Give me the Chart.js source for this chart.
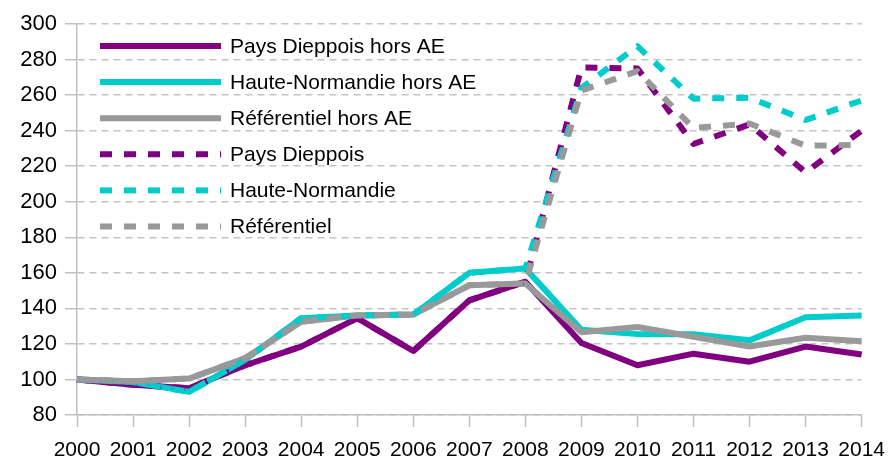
<!DOCTYPE html>
<html>
<head>
<meta charset="utf-8">
<script src="https://cdn.jsdelivr.net/npm/chart.js@4/dist/chart.umd.min.js"></script>
<style>
  html, body { margin: 0; padding: 0; background: #fff; }
  #wrap { width: 896px; height: 457px; }
</style>
</head>
<body>
<div id="wrap"><canvas id="chart"></canvas></div>
<script>
const years = ['2000', '2001', '2002', '2003', '2004', '2005', '2006', '2007',
  '2008', '2009', '2010', '2011', '2012', '2013', '2014'];

const yTicks = [80, 100, 120, 140, 160, 180, 200, 220, 240, 260, 280, 300];

// hors AE (solid lines)
const paysDieppoisHorsAE = [100, 97, 95, 108, 118.5, 134.5, 116, 144.5, 155, 120.5, 108, 114.5, 110, 118.5, 114];
const hauteNormandieHorsAE = [100, 98.5, 93, 111, 134.5, 136, 136.5, 160, 162.5, 128, 125.5, 125.5, 122, 135, 136];
const referentielHorsAE = [100, 99, 100.5, 112, 132.5, 136, 136.5, 153, 154, 126.5, 129.5, 124, 118.5, 123.5, 121.5];

// with AE (dashed lines)
const paysDieppois = [100, 97, 95, 108, 118.5, 134.5, 116, 144.5, 155, 275.5, 275, 232.5, 243.5, 216.5, 240];
const hauteNormandie = [100, 98.5, 93, 111, 134.5, 136, 136.5, 160, 162.5, 264, 287.5, 258, 258.5, 246, 257];
const referentiel = [100, 99, 100.5, 112, 132.5, 136, 136.5, 153, 154, 262.5, 273.5, 241.5, 244, 231.5, 232];

const PURPLE = '#800080';
const CYAN = '#00cccc';
const GREY = '#999999';
const DASH = [12, 12];
const FONT = "'Liberation Sans', Arial, sans-serif";

function line(label, data, color, dashed, idx) {
  return {
    label,
    data,
    borderColor: color,
    backgroundColor: color,
    borderWidth: 6,
    borderDash: dashed ? DASH : [],
    borderJoinStyle: 'round',
    pointRadius: 0,
    tension: 0,
    fill: false,
    order: 5 - idx   // later series on top, like the original
  };
}

// legend drawn inside the plot, top left
const insideLegend = {
  id: 'insideLegend',
  afterDatasetsDraw(chart) {
    const ctx = chart.ctx;
    const x0 = 100, x1 = 221, textX = 230, y0 = 46, step = 36.1;
    ctx.save();
    chart.data.datasets.forEach((ds, i) => {
      const y = y0 + i * step;
      ctx.beginPath();
      ctx.strokeStyle = ds.borderColor;
      ctx.lineWidth = 6;
      ctx.setLineDash(ds.borderDash);
      ctx.moveTo(x0, y);
      ctx.lineTo(x1, y);
      ctx.stroke();
      ctx.setLineDash([]);
      ctx.fillStyle = '#000';
      ctx.font = '21px ' + FONT;
      ctx.textBaseline = 'middle';
      ctx.textAlign = 'left';
      ctx.fillText(ds.label, textX, y + 1);
    });
    ctx.restore();
  }
};

new Chart(document.getElementById('chart'), {
  type: 'line',
  data: {
    labels: years,
    datasets: [
      line('Pays Dieppois hors AE', paysDieppoisHorsAE, PURPLE, false, 0),
      line('Haute-Normandie hors AE', hauteNormandieHorsAE, CYAN, false, 1),
      line('Référentiel hors AE', referentielHorsAE, GREY, false, 2),
      line('Pays Dieppois', paysDieppois, PURPLE, true, 3),
      line('Haute-Normandie', hauteNormandie, CYAN, true, 4),
      line('Référentiel', referentiel, GREY, true, 5)
    ]
  },
  options: {
    responsive: true,
    maintainAspectRatio: false,
    animation: false,
    layout: { padding: { top: 24, right: 24, left: 0, bottom: 0 } },
    plugins: {
      legend: { display: false },
      tooltip: { enabled: false }
    },
    scales: {
      x: {
        offset: false,
        grid: {
          drawOnChartArea: false,
          drawTicks: true,
          tickLength: 12,
          tickColor: '#c0c0c0',
          tickWidth: 1.5
        },
        border: { display: true, color: '#c0c0c0', width: 1.5 },
        ticks: {
          color: '#000',
          font: { family: FONT, size: 21 },
          padding: 11,
          maxRotation: 0,
          autoSkip: false
        },
        afterFit(scale) { scale.height = 42; }
      },
      y: {
        min: 80,
        max: 300,
        afterBuildTicks(scale) { scale.ticks = yTicks.map(v => ({ value: v })); },
        grid: {
          color: '#c4c4c4',
          lineWidth: 1.5,
          tickLength: 12,
          tickColor: '#c0c0c0',
          tickBorderDash: [],
          tickWidth: 1.5
        },
        border: { display: true, color: '#c0c0c0', width: 1.5, dash: [7, 5] },
        ticks: {
          color: '#000',
          font: { family: FONT, size: 22 },
          padding: 8
        },
        afterFit(scale) { scale.width = 77; }
      }
    }
  },
  plugins: [insideLegend]
});
</script>
</body>
</html>
